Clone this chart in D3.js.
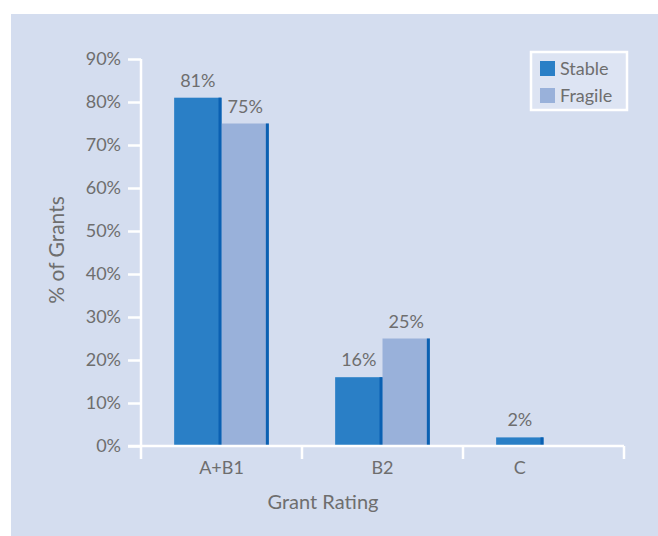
<!DOCTYPE html>
<html>
<head>
<meta charset="utf-8">
<script src="https://cdn.jsdelivr.net/npm/d3@7"></script>
<style>
  body { margin: 0; background: #fff; }
  text { font-family: Lato, "Open Sans", sans-serif; fill: #6e6e6e; }
</style>
</head>
<body>
<div id="chart"></div>
<script>
// data
var categories = ["A+B1", "B2", "C"]
var seriesNames = ["Stable", "Fragile"]
var stableValues = [81, 16, 2]
var fragileValues = [75, 25, null]
var yTicks = [0, 10, 20, 30, 40, 50, 60, 70, 80, 90]

var width = 658, height = 536
var colors = { Stable: "#2a7fc6", Fragile: "#99b1da" }
var edgeColor = "#0a60b2"

var svg = d3.select("#chart").append("svg")
    .attr("width", width)
    .attr("height", height)

// panel background
svg.append("rect")
    .attr("x", 11).attr("y", 14)
    .attr("width", width - 11).attr("height", height - 14)
    .attr("fill", "#d4ddef")

var x0 = d3.scaleBand()
    .domain(categories)
    .range([141, 624])
    .paddingInner(0)
    .paddingOuter(0)

var x1 = d3.scaleBand()
    .domain(seriesNames)
    .range([0, x0.bandwidth()])
    .paddingOuter(0.7)
    .paddingInner(0)

var y = d3.scaleLinear()
    .domain([0, 90])
    .range([446, 59])

var rows = categories.map(function(c, i) {
  return { cat: c, values: [
    { key: "Stable", value: stableValues[i] },
    { key: "Fragile", value: fragileValues[i] }
  ].filter(function(d) { return d.value != null }) }
})

// bars
var groups = svg.selectAll(".grp")
  .data(rows)
  .enter().append("g")
    .attr("class", "grp")
    .attr("transform", function(d) { return "translate(" + x0(d.cat) + ",0)" })

groups.selectAll(".bar")
  .data(function(d) { return d.values })
  .enter().append("rect")
    .attr("class", "bar")
    .attr("x", function(d) { return x1(d.key) })
    .attr("y", function(d) { return y(d.value) })
    .attr("width", x1.bandwidth())
    .attr("height", function(d) { return y(0) - y(d.value) })
    .attr("fill", function(d) { return colors[d.key] })

// darker right edge on each bar
groups.selectAll(".edge")
  .data(function(d) { return d.values })
  .enter().append("rect")
    .attr("x", function(d) { return x1(d.key) + x1.bandwidth() - 3 })
    .attr("y", function(d) { return y(d.value) })
    .attr("width", 3)
    .attr("height", function(d) { return y(0) - y(d.value) })
    .attr("fill", edgeColor)

groups.selectAll(".lbl")
  .data(function(d) { return d.values })
  .enter().append("text")
    .attr("x", function(d) { return x1(d.key) + x1.bandwidth() / 2 })
    .attr("y", function(d) { return y(d.value) - 11 })
    .attr("text-anchor", "middle")
    .style("font-size", "18px")
    .text(function(d) { return d.value + "%" })

// category label sits under the bars that are present
groups.append("text")
    .attr("x", function(d) {
      var first = x1(d.values[0].key)
      var last = x1(d.values[d.values.length - 1].key) + x1.bandwidth()
      return (first + last) / 2
    })
    .attr("y", 474)
    .attr("text-anchor", "middle")
    .style("font-size", "18px")
    .text(function(d) { return d.cat })

// y axis
var yAxis = svg.append("g")
    .attr("transform", "translate(141,0)")
    .call(d3.axisLeft(y).tickValues(yTicks).tickSize(13).tickPadding(7)
      .tickFormat(function(d) { return d + "%" }))
yAxis.select(".domain").remove()
yAxis.selectAll("line").attr("stroke", "#fff").attr("stroke-width", 2.5)
yAxis.selectAll("text").style("font-size", "18px").attr("fill", "#6e6e6e")

svg.append("line")
    .attr("x1", 141).attr("x2", 141)
    .attr("y1", y(90)).attr("y2", 459)
    .attr("stroke", "#fff").attr("stroke-width", 2.5)

// x axis
svg.append("line")
    .attr("x1", 128).attr("x2", 624)
    .attr("y1", y(0)).attr("y2", y(0))
    .attr("stroke", "#fff").attr("stroke-width", 2.5)

var sepPos = categories.map(function(c) { return x0(c) + x0.bandwidth() })
svg.selectAll(".sep")
  .data(sepPos)
  .enter().append("line")
    .attr("x1", function(d) { return d }).attr("x2", function(d) { return d })
    .attr("y1", y(0)).attr("y2", 459)
    .attr("stroke", "#fff").attr("stroke-width", 2.5)

// axis titles
svg.append("text")
    .attr("x", 323).attr("y", 509)
    .attr("text-anchor", "middle")
    .style("font-size", "20px")
    .text("Grant Rating")

svg.append("text")
    .attr("transform", "translate(64,250) rotate(-90)")
    .attr("text-anchor", "middle")
    .style("font-size", "21px")
    .text("% of Grants")

// legend
var legend = svg.append("g")
legend.append("rect")
    .attr("x", 531).attr("y", 52)
    .attr("width", 96).attr("height", 58)
    .attr("fill", "#dde4f3")
    .attr("stroke", "#fff").attr("stroke-width", 2.5)

var li = legend.selectAll(".li")
  .data(seriesNames)
  .enter().append("g")
    .attr("transform", function(d, i) { return "translate(540," + (61 + i * 27) + ")" })
li.append("rect")
    .attr("width", 15).attr("height", 15)
    .attr("fill", function(d) { return colors[d] })
li.append("text")
    .attr("x", 20).attr("y", 14)
    .style("font-size", "18px")
    .text(function(d) { return d })
</script>
</body>
</html>
